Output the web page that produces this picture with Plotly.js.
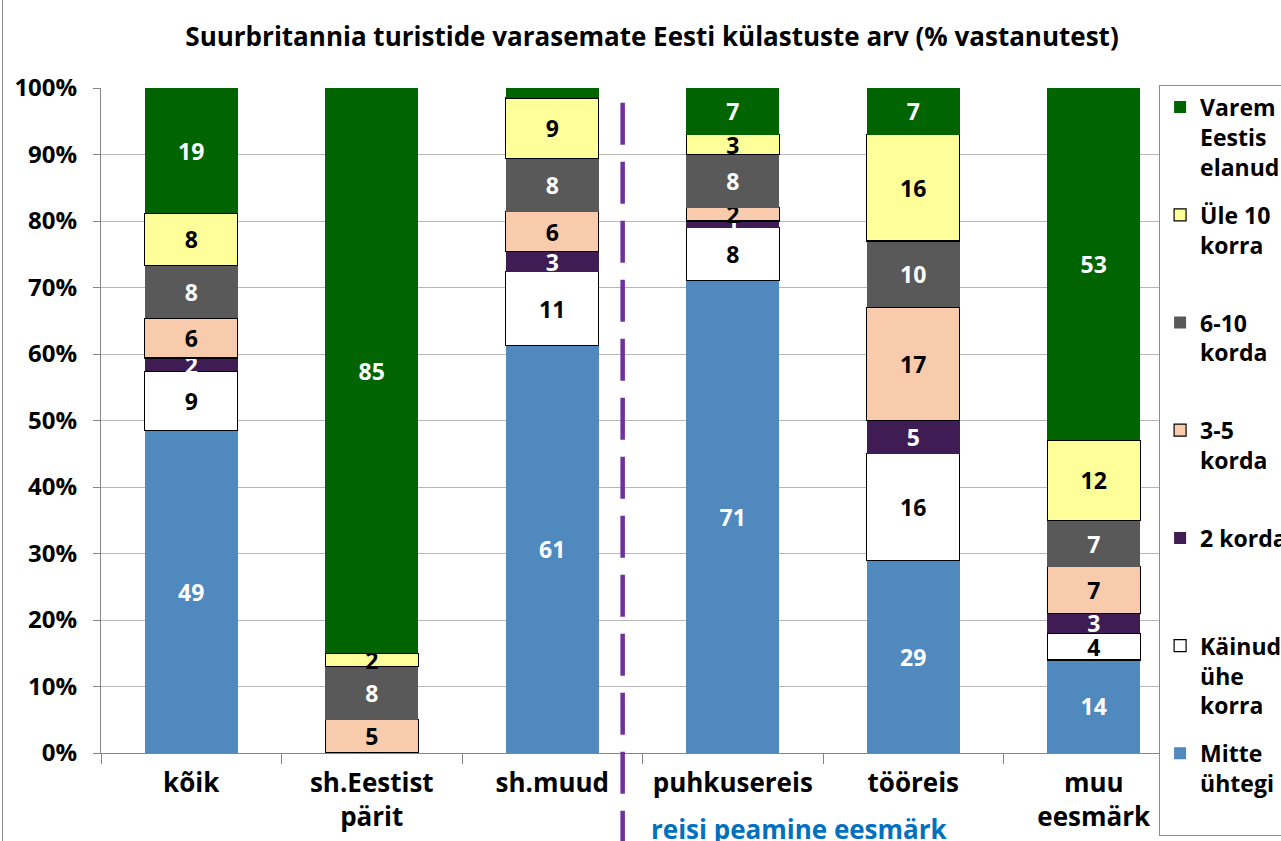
<!DOCTYPE html>
<html>
<head>
<meta charset="utf-8">
<script src="https://cdn.plot.ly/plotly-3.0.1.min.js"></script>
<style>
  html, body { margin: 0; padding: 0; background: #fff; }
  #wrap { position: relative; width: 1281px; height: 841px; }
  #chart { width: 1281px; height: 841px; }
  #frame { position: absolute; left: 2px; top: 0; width: 0; height: 841px; border-left: 1px solid #8c8c8c; }
</style>
</head>
<body>
<div id="wrap">
  <div id="chart"></div>
  <div id="frame"></div>
</div>
<script>
// Categories (x axis)
const categories = ['kõik', 'sh.Eestist<br>pärit', 'sh.muud', 'puhkusereis', 'tööreis', 'muu<br>eesmärk'];

// Series values, bottom to top (Excel 100% stacked -> barnorm percent)
const mitteUhtegi  = [49, 0, 61, 71, 29, 14];
const kainudUhe    = [9, 0, 11, 8, 16, 4];
const kaksKorda    = [2, 0, 3, 1, 5, 3];
const kolmViis     = [6, 5, 6, 2, 17, 7];
const kuusKumme    = [8, 8, 8, 8, 10, 7];
const ule10        = [8, 2, 9, 3, 16, 12];
const varemElanud  = [19, 85, 1.5, 7, 7, 53];

// labels not shown in the original (series key -> category index)
const noLabel = { varem: [2] };

const series = [
  { key: 'mitte',  name: 'Mitte<br>ühtegi<br> ',      y: mitteUhtegi, color: '#4f89bd', line: null,      txt: '#ffffff' },
  { key: 'kainud', name: 'Käinud<br>ühe<br>korra',    y: kainudUhe,   color: '#ffffff', line: '#000000', txt: '#000000' },
  { key: 'kaks',   name: '2 korda<br> <br> ',         y: kaksKorda,   color: '#3f1c54', line: null,      txt: '#ffffff' },
  { key: 'kolm',   name: '3-5<br>korda<br> ',         y: kolmViis,    color: '#f8cbad', line: '#000000', txt: '#000000' },
  { key: 'kuus',   name: '6-10<br>korda<br> ',        y: kuusKumme,   color: '#595959', line: null,      txt: '#ffffff' },
  { key: 'ule',    name: 'Üle 10<br>korra<br> ',      y: ule10,       color: '#ffff99', line: '#000000', txt: '#000000' },
  { key: 'varem',  name: 'Varem<br>Eestis<br>elanud', y: varemElanud, color: '#006400', line: null,      txt: '#ffffff' }
];

const FONT = '"Open Sans", Lato, "DejaVu Sans", sans-serif';

const traces = series.map((s, idx) => {
  const skip = noLabel[s.key] || [];
  return {
    type: 'bar',
    name: s.name,
    legendgroup: s.key,
    legendrank: series.length - idx,   // top of the stack first in the legend
    x: categories,
    y: s.y,
    text: s.y.map((v, i) => (v > 0 && skip.indexOf(i) < 0) ? String(Math.round(v)) : ''),
    textposition: 'inside',
    insidetextanchor: 'middle',
    textangle: 0,
    cliponaxis: false,
    textfont: { family: FONT, size: 23, color: s.txt, weight: 'bold' },
    marker: {
      color: s.color,
      line: { color: s.line || s.color, width: s.line ? 1.2 : 0 }
    },
    hoverinfo: 'x+y+name'
  };
});

const layout = {
  width: 1281,
  height: 841,
  paper_bgcolor: '#ffffff',
  plot_bgcolor: '#ffffff',
  font: { family: FONT, size: 22, color: '#000000', weight: 'bold' },
  barmode: 'stack',
  barnorm: 'percent',
  bargap: 0.485,
  uniformtext: { mode: 'show', minsize: 23 },
  margin: { l: 101, r: 97, t: 88, b: 88, autoexpand: false },
  title: {
    text: '<b>Suurbritannia turistide varasemate Eesti külastuste arv (% vastanutest)</b>',
    font: { family: FONT, size: 26, color: '#000000' },
    x: 0.509, xanchor: 'center',
    y: 0.956, yanchor: 'middle'
  },
  xaxis: {
    type: 'category',
    showline: true,
    linecolor: '#868686',
    linewidth: 1,
    ticks: 'outside',
    tickson: 'boundaries',
    ticklen: 10,
    tickcolor: '#868686',
    ticklabelstandoff: 7,
    tickfont: { family: FONT, size: 26, color: '#000000', weight: 'bold' },
    showgrid: false,
    fixedrange: true
  },
  yaxis: {
    range: [0, 100],
    dtick: 10,
    ticksuffix: '%',
    showline: true,
    linecolor: '#868686',
    ticks: 'outside',
    ticklen: 7,
    tickcolor: '#868686',
    ticklabelstandoff: 11,
    gridcolor: '#b7b7b7',
    gridwidth: 1,
    tickfont: { family: FONT, size: 24, color: '#000000', weight: 'bold' },
    zeroline: false,
    fixedrange: true
  },
  legend: {
    x: 0.977, xanchor: 'left',
    y: 1.005, yanchor: 'top',
    traceorder: 'grouped',
    tracegroupgap: 15,
    valign: 'top',
    maxheight: 900,
    bgcolor: '#ffffff',
    bordercolor: '#8c8c8c',
    borderwidth: 1,
    font: { family: FONT, size: 23, color: '#000000', weight: 'bold' }
  },
  shapes: [{
    type: 'line',
    xref: 'x', yref: 'paper',
    x0: 2.39, x1: 2.39,
    y0: -0.15, y1: 1,
    line: { color: '#7030a0', width: 4.5, dash: '42px,17px' }
  }],
  annotations: [{
    xref: 'x', yref: 'paper',
    x: 3.37, y: -0.115,
    xanchor: 'center', yanchor: 'middle',
    text: '<b>reisi peamine eesmärk</b>',
    showarrow: false,
    font: { family: FONT, size: 26, color: '#0070c0' }
  }]
};

Plotly.newPlot('chart', traces, layout, { displayModeBar: false, staticPlot: true });
</script>
</body>
</html>
